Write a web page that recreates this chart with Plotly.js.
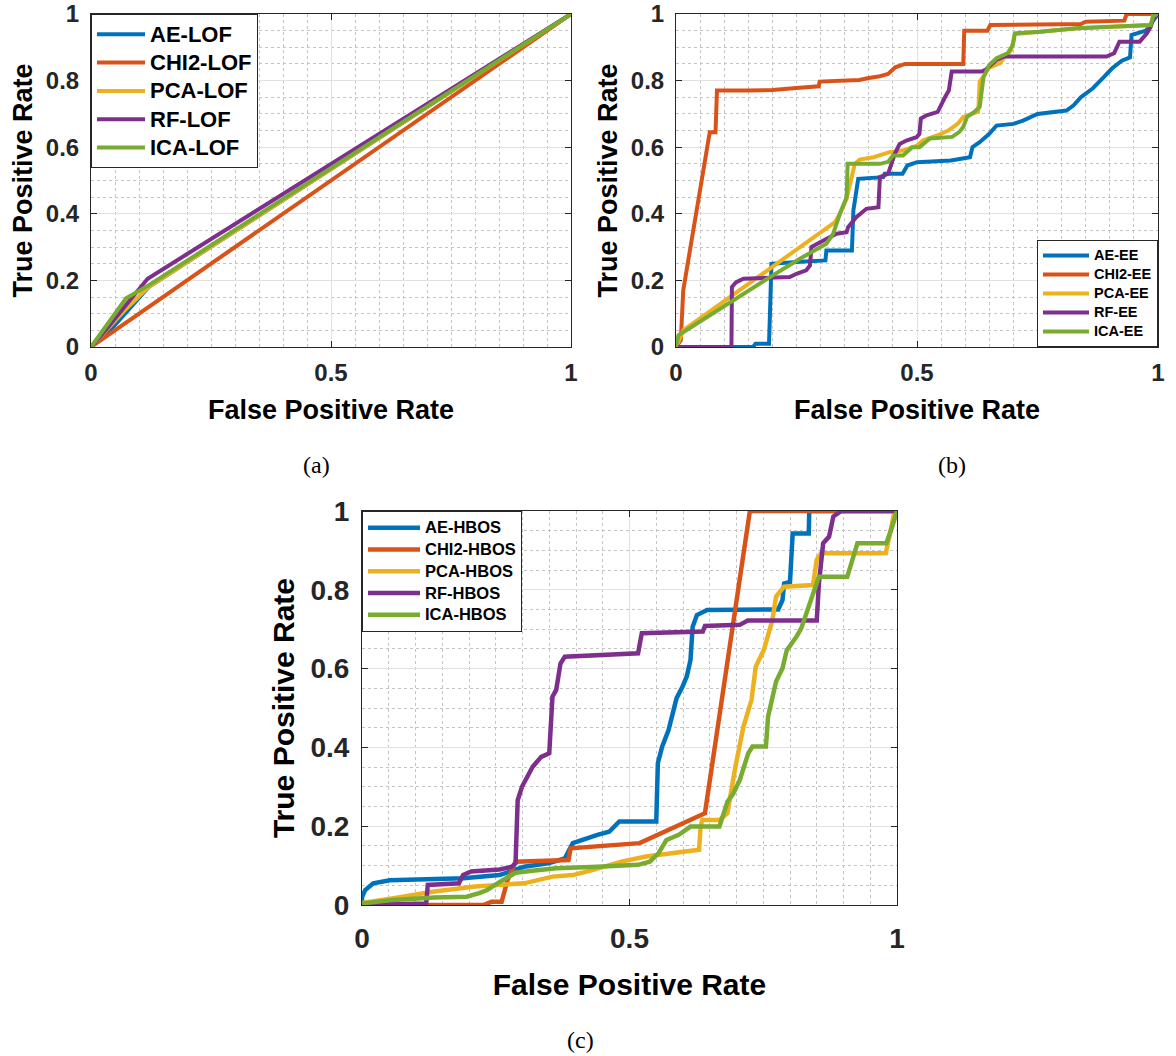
<!DOCTYPE html>
<html>
<head>
<meta charset="utf-8">
<script src="https://cdn.plot.ly/plotly-3.0.1.min.js"></script>
<style>html,body{margin:0;padding:0;background:#fff}</style>
</head>
<body>
<div id="chart" style="width:1176px;height:1056px"></div>
<script>
// ---------- (a) LOF ROC curves ----------
const aeLofFpr   = [0, 0.04, 0.12, 1];
const aeLofTpr   = [0, 0.05, 0.18, 1];
const chi2LofFpr = [0, 1];
const chi2LofTpr = [0, 1];
const pcaLofFpr  = [0, 0.07, 0.12, 1];
const pcaLofTpr  = [0, 0.11, 0.18, 1];
const rfLofFpr   = [0, 0.03, 0.075, 0.118, 1];
const rfLofTpr   = [0, 0.05, 0.13, 0.205, 1];
const icaLofFpr  = [0, 0.073, 0.12, 1];
const icaLofTpr  = [0, 0.146, 0.185, 1];

// ---------- (b) EE ROC curves ----------
const aeEeFpr = [0, 0.16, 0.165, 0.193, 0.196, 0.198, 0.25, 0.31, 0.312, 0.365, 0.368, 0.378, 0.43, 0.433, 0.47, 0.48, 0.5, 0.57, 0.61, 0.615, 0.63, 0.65, 0.665, 0.7, 0.72, 0.75, 0.81, 0.825, 0.84, 0.865, 0.885, 0.905, 0.925, 0.942, 0.945, 0.975, 0.99, 1];
const aeEeTpr = [0, 0, 0.01, 0.01, 0.15, 0.25, 0.255, 0.26, 0.29, 0.29, 0.41, 0.505, 0.51, 0.52, 0.52, 0.545, 0.555, 0.56, 0.57, 0.6, 0.615, 0.64, 0.665, 0.67, 0.68, 0.7, 0.71, 0.726, 0.75, 0.777, 0.807, 0.837, 0.86, 0.87, 0.937, 0.95, 0.98, 1];
const chi2EeFpr = [0, 0.01, 0.015, 0.066, 0.07, 0.082, 0.085, 0.15, 0.2, 0.25, 0.296, 0.298, 0.35, 0.38, 0.4, 0.42, 0.44, 0.455, 0.475, 0.596, 0.598, 0.646, 0.652, 0.84, 0.85, 0.93, 0.935, 1];
const chi2EeTpr = [0, 0.02, 0.17, 0.6, 0.645, 0.645, 0.77, 0.77, 0.772, 0.778, 0.783, 0.797, 0.8, 0.802, 0.808, 0.812, 0.82, 0.84, 0.85, 0.85, 0.95, 0.95, 0.967, 0.97, 0.977, 0.98, 1, 1];
const pcaEeFpr = [0, 0.015, 0.33, 0.34, 0.354, 0.371, 0.381, 0.41, 0.443, 0.47, 0.5, 0.512, 0.543, 0.566, 0.585, 0.596, 0.627, 0.63, 0.64, 0.648, 0.663, 0.672, 0.68, 0.695, 0.703, 0.756, 0.832, 0.985, 0.99, 1];
const pcaEeTpr = [0, 0.05, 0.375, 0.4, 0.445, 0.55, 0.563, 0.57, 0.585, 0.59, 0.605, 0.62, 0.636, 0.651, 0.671, 0.691, 0.706, 0.797, 0.817, 0.837, 0.847, 0.852, 0.867, 0.89, 0.94, 0.947, 0.957, 0.967, 0.995, 1];
const rfEeFpr = [0, 0.115, 0.116, 0.125, 0.14, 0.236, 0.25, 0.27, 0.278, 0.281, 0.3, 0.333, 0.354, 0.357, 0.374, 0.395, 0.42, 0.423, 0.44, 0.447, 0.454, 0.464, 0.478, 0.499, 0.505, 0.508, 0.52, 0.543, 0.55, 0.558, 0.566, 0.572, 0.634, 0.642, 0.653, 0.665, 0.68, 0.893, 0.909, 0.92, 0.962, 0.977, 0.985, 0.992, 1];
const rfEeTpr = [0, 0, 0.18, 0.195, 0.205, 0.21, 0.22, 0.23, 0.245, 0.3, 0.315, 0.34, 0.345, 0.36, 0.39, 0.415, 0.42, 0.51, 0.52, 0.55, 0.58, 0.61, 0.62, 0.63, 0.64, 0.686, 0.696, 0.706, 0.73, 0.75, 0.77, 0.827, 0.827, 0.832, 0.847, 0.862, 0.872, 0.872, 0.882, 0.917, 0.917, 0.942, 0.962, 0.995, 1];
const icaEeFpr = [0, 0.005, 0.195, 0.257, 0.312, 0.326, 0.34, 0.35, 0.354, 0.356, 0.423, 0.44, 0.45, 0.471, 0.49, 0.505, 0.527, 0.573, 0.588, 0.596, 0.604, 0.619, 0.63, 0.638, 0.65, 0.665, 0.688, 0.699, 0.703, 0.756, 0.832, 0.985, 0.99, 1];
const icaEeTpr = [0, 0.035, 0.21, 0.265, 0.31, 0.34, 0.4, 0.44, 0.45, 0.55, 0.55, 0.556, 0.575, 0.575, 0.6, 0.6, 0.626, 0.631, 0.646, 0.661, 0.691, 0.706, 0.721, 0.81, 0.847, 0.867, 0.882, 0.907, 0.942, 0.947, 0.957, 0.967, 0.995, 1];

// ---------- (c) HBOS ROC curves ----------
const aeHbosFpr = [0, 0, 0.006, 0.021, 0.052, 0.189, 0.257, 0.303, 0.348, 0.379, 0.394, 0.417, 0.44, 0.462, 0.481, 0.55, 0.553, 0.561, 0.573, 0.58, 0.588, 0.599, 0.607, 0.614, 0.618, 0.626, 0.645, 0.778, 0.786, 0.789, 0.8, 0.805, 0.835, 0.836, 1];
const aeHbosTpr = [0, 0.02, 0.038, 0.055, 0.063, 0.068, 0.076, 0.097, 0.106, 0.118, 0.157, 0.169, 0.178, 0.186, 0.212, 0.212, 0.36, 0.402, 0.444, 0.482, 0.525, 0.554, 0.58, 0.622, 0.706, 0.736, 0.749, 0.75, 0.774, 0.816, 0.82, 0.943, 0.943, 1, 1];
const chi2HbosFpr = [0, 0.227, 0.242, 0.261, 0.272, 0.287, 0.386, 0.39, 0.519, 0.641, 0.725, 1];
const chi2HbosTpr = [0, 0, 0.008, 0.008, 0.063, 0.11, 0.114, 0.144, 0.157, 0.233, 1, 1];
const pcaHbosFpr = [0, 0, 0.059, 0.135, 0.211, 0.265, 0.303, 0.356, 0.394, 0.432, 0.485, 0.531, 0.63, 0.633, 0.636, 0.668, 0.683, 0.698, 0.713, 0.728, 0.736, 0.751, 0.767, 0.774, 0.789, 0.843, 0.85, 0.858, 0.979, 0.987, 0.995, 1];
const pcaHbosTpr = [0, 0.005, 0.017, 0.034, 0.047, 0.051, 0.055, 0.072, 0.076, 0.089, 0.11, 0.123, 0.14, 0.2, 0.216, 0.216, 0.233, 0.351, 0.453, 0.52, 0.605, 0.647, 0.723, 0.783, 0.808, 0.812, 0.876, 0.893, 0.893, 0.943, 0.998, 1];
const rfHbosFpr = [0, 0.12, 0.123, 0.181, 0.189, 0.204, 0.257, 0.28, 0.287, 0.291, 0.299, 0.31, 0.319, 0.335, 0.35, 0.356, 0.363, 0.371, 0.379, 0.516, 0.523, 0.637, 0.641, 0.706, 0.721, 0.85, 0.854, 0.862, 0.873, 0.881, 0.896, 1];
const rfHbosTpr = [0, 0.004, 0.051, 0.055, 0.076, 0.085, 0.09, 0.097, 0.106, 0.266, 0.3, 0.326, 0.351, 0.376, 0.385, 0.529, 0.546, 0.613, 0.63, 0.639, 0.69, 0.694, 0.708, 0.711, 0.722, 0.722, 0.816, 0.918, 0.935, 0.986, 1, 1];
const icaHbosFpr = [0, 0.059, 0.135, 0.196, 0.219, 0.234, 0.253, 0.276, 0.287, 0.318, 0.363, 0.44, 0.516, 0.538, 0.554, 0.569, 0.592, 0.614, 0.668, 0.683, 0.694, 0.706, 0.722, 0.73, 0.755, 0.759, 0.774, 0.786, 0.794, 0.812, 0.821, 0.854, 0.907, 0.926, 0.98, 0.991, 0.998, 1];
const icaHbosTpr = [0.004, 0.013, 0.019, 0.021, 0.03, 0.038, 0.055, 0.072, 0.082, 0.087, 0.093, 0.097, 0.102, 0.11, 0.131, 0.165, 0.178, 0.199, 0.199, 0.262, 0.283, 0.317, 0.385, 0.402, 0.402, 0.478, 0.567, 0.601, 0.647, 0.681, 0.702, 0.833, 0.833, 0.918, 0.918, 0.96, 0.998, 1];

const methodColors = ['#0072BD', '#D95319', '#EDB120', '#7E2F8E', '#77AC30'];
const SANS = '"Liberation Sans", Arial, Helvetica, sans-serif';
const W = 1176, H = 1056;

// pixel box -> paper domain
const dx = (l, r) => [l / W, r / W];
const dy = (t, b) => [1 - b / H, 1 - t / H];

// legend rows are packed tighter than the label size, so the label text carries its own size
const panels = [
  { key: '', legend: 'legend', width: 4, labelSize: 22,
    names: ['AE-LOF', 'CHI2-LOF', 'PCA-LOF', 'RF-LOF', 'ICA-LOF'],
    xs: [aeLofFpr, chi2LofFpr, pcaLofFpr, rfLofFpr, icaLofFpr],
    ys: [aeLofTpr, chi2LofTpr, pcaLofTpr, rfLofTpr, icaLofTpr] },
  { key: '2', legend: 'legend2', width: 4, labelSize: 14.5,
    names: ['AE-EE', 'CHI2-EE', 'PCA-EE', 'RF-EE', 'ICA-EE'],
    xs: [aeEeFpr, chi2EeFpr, pcaEeFpr, rfEeFpr, icaEeFpr],
    ys: [aeEeTpr, chi2EeTpr, pcaEeTpr, rfEeTpr, icaEeTpr] },
  { key: '3', legend: 'legend3', width: 4.5, labelSize: 16.5,
    names: ['AE-HBOS', 'CHI2-HBOS', 'PCA-HBOS', 'RF-HBOS', 'ICA-HBOS'],
    xs: [aeHbosFpr, chi2HbosFpr, pcaHbosFpr, rfHbosFpr, icaHbosFpr],
    ys: [aeHbosTpr, chi2HbosTpr, pcaHbosTpr, rfHbosTpr, icaHbosTpr] }
];

const traces = [];
panels.forEach(p => {
  p.names.forEach((name, i) => {
    traces.push({
      type: 'scatter', mode: 'lines',
      name: '<span style="font-size:' + p.labelSize + 'px">' + name + '</span>',
      x: p.xs[i], y: p.ys[i],
      xaxis: 'x' + p.key, yaxis: 'y' + p.key, legend: p.legend,
      line: { color: methodColors[i], width: p.width },
      cliponaxis: false, hoverinfo: 'skip'
    });
  });
});

function makeAxis(domain, anchor, dtick, tickSize, titleText, titleSize, standoff, labelGap) {
  return {
    domain: domain, anchor: anchor, range: [0, 1], dtick: dtick, tick0: 0,
    showline: true, linecolor: '#262626', linewidth: 1, mirror: 'ticks',
    ticks: 'inside', ticklen: 6, tickwidth: 1, tickcolor: '#262626',
    ticklabelstandoff: labelGap,
    tickfont: { family: SANS, size: tickSize, color: '#262626', weight: 'bold' },
    showgrid: true, gridcolor: '#e1e1e1', gridwidth: 1,
    minor: { dtick: 0.05, tick0: 0, showgrid: true, gridcolor: '#c4c4c4', griddash: 'dot', gridwidth: 1, ticks: '' },
    zeroline: false, fixedrange: true,
    title: { text: titleText, standoff: standoff, font: { family: SANS, size: titleSize, color: '#000', weight: 'bold' } }
  };
}

function makeLegend(x, y, xanchor, yanchor, rowSize, itemwidth) {
  return {
    x: x, y: y, xanchor: xanchor, yanchor: yanchor,
    bgcolor: '#ffffff', bordercolor: '#262626', borderwidth: 1,
    font: { family: SANS, size: rowSize, color: '#000', weight: 'bold' },
    itemwidth: itemwidth, tracegroupgap: 0, traceorder: 'normal'
  };
}

const layout = {
  width: W, height: H, autosize: false,
  margin: { l: 0, r: 0, t: 0, b: 0, pad: 0 },
  paper_bgcolor: '#ffffff', plot_bgcolor: '#ffffff',
  showlegend: true,
  xaxis:  makeAxis(dx(91, 571),  'y',  0.5, 24, 'False Positive Rate', 27, 15, 4),
  yaxis:  makeAxis(dy(14, 347),  'x',  0.2, 24, 'True Positive Rate', 27, 5, 6),
  xaxis2: makeAxis(dx(676, 1158), 'y2', 0.5, 24, 'False Positive Rate', 27, 15, 4),
  yaxis2: makeAxis(dy(14, 347),   'x2', 0.2, 24, 'True Positive Rate', 27, 5, 6),
  xaxis3: makeAxis(dx(362, 897),  'y3', 0.5, 28, 'False Positive Rate', 30, 21, 8),
  yaxis3: makeAxis(dy(511, 905),  'x3', 0.2, 28, 'True Positive Rate', 30, 6, 6),
  legend:  makeLegend(91 / W, 1 - 14 / H, 'left', 'top', 19.5, 48),
  legend2: makeLegend(1158 / W, 1 - 347 / H, 'right', 'bottom', 12, 46),
  legend3: makeLegend(362 / W, 1 - 511 / H, 'left', 'top', 14.4, 52),
  annotations: [
    { text: '(a)', x: 316 / W, y: 1 - 465 / H },
    { text: '(b)', x: 952 / W, y: 1 - 465 / H },
    { text: '(c)', x: 580 / W, y: 1 - 1040 / H }
  ].map(a => Object.assign(a, {
    xref: 'paper', yref: 'paper', xanchor: 'center', yanchor: 'middle', showarrow: false,
    font: { family: '"Liberation Serif", "Times New Roman", serif', size: 24, color: '#000' }
  }))
};

Plotly.newPlot('chart', traces, layout, { staticPlot: true, displayModeBar: false });
</script>
</body>
</html>
